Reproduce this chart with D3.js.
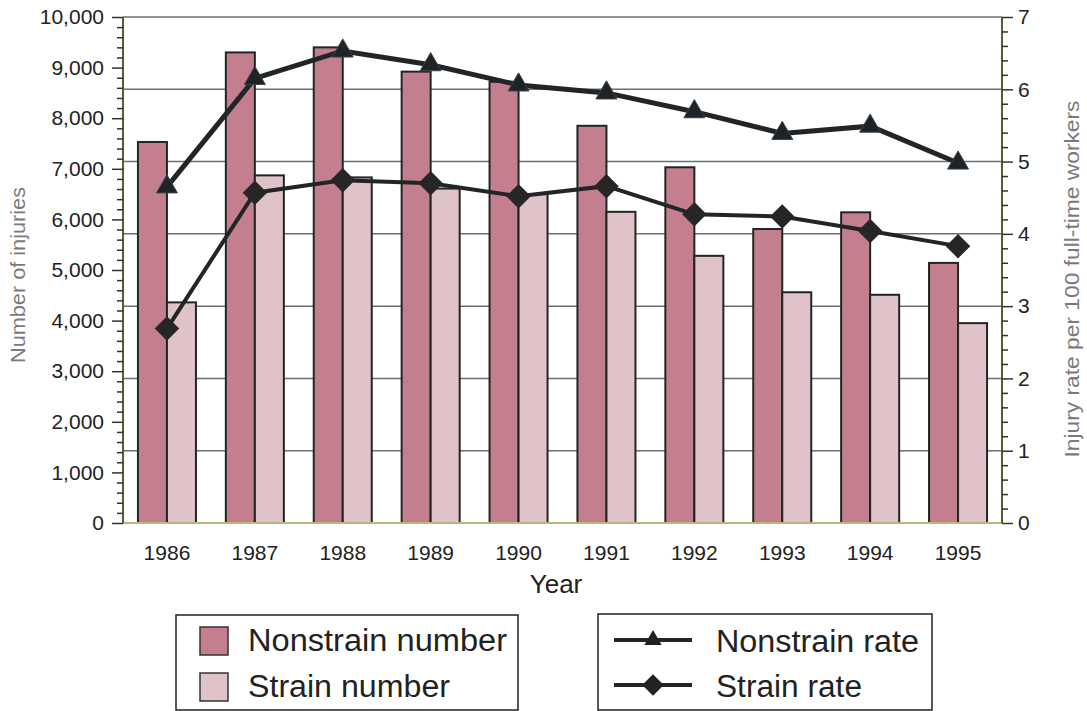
<!DOCTYPE html>
<html>
<head>
<meta charset="utf-8">
<script src="https://cdn.jsdelivr.net/npm/d3@7"></script>
<style>
  body { margin: 0; background: #fff; }
  text { font-family: Arial, "Liberation Sans", sans-serif; }
</style>
</head>
<body>
<div id="chart"></div>
<script>
// data
var years = ["1986", "1987", "1988", "1989", "1990", "1991", "1992", "1993", "1994", "1995"];
var nonstrainNumber = [7530, 9300, 9400, 8920, 8720, 7850, 7030, 5810, 6140, 5140];
var strainNumber = [4360, 6870, 6830, 6610, 6500, 6150, 5280, 4560, 4510, 3950];
var nonstrainRate = [4.65, 6.15, 6.53, 6.34, 6.06, 5.95, 5.69, 5.39, 5.49, 4.98];
var strainRate = [2.69, 4.57, 4.74, 4.70, 4.52, 4.66, 4.27, 4.24, 4.04, 3.83];
var leftTicks = [0, 1000, 2000, 3000, 4000, 5000, 6000, 7000, 8000, 9000, 10000];
var rightTicks = [0, 1, 2, 3, 4, 5, 6, 7];

var svgWidth = 1087;
var svgHeight = 711;

var plot = { left: 123, right: 1002, top: 17, bottom: 523 };

var svg = d3.select("#chart")
  .append("svg")
  .attr("width", svgWidth)
  .attr("height", svgHeight);

var x = d3.scaleBand()
  .domain(years)
  .range([plot.left, plot.right]);

var yLeft = d3.scaleLinear()
  .domain([0, 10000])
  .range([plot.bottom, plot.top]);

var yRight = d3.scaleLinear()
  .domain([0, 7])
  .range([plot.bottom, plot.top]);

var nonColor = "#c47f8f";
var strColor = "#e0c3c8";
var ink = "#222527";

// gridlines follow the right axis
svg.append("g")
  .selectAll("line")
  .data(rightTicks.slice(1))
  .enter()
  .append("line")
  .attr("x1", plot.left)
  .attr("x2", plot.right)
  .attr("y1", d => yRight(d))
  .attr("y2", d => yRight(d))
  .attr("stroke", "#6a6f73")
  .attr("stroke-width", 1.5);

// bars
var barW = x.bandwidth() * 0.33;
var bars = svg.append("g");

bars.selectAll(".non")
  .data(years)
  .enter()
  .append("rect")
  .attr("x", d => x(d) + x.bandwidth() / 2 - barW)
  .attr("y", (d, i) => yLeft(nonstrainNumber[i]))
  .attr("width", barW)
  .attr("height", (d, i) => plot.bottom - yLeft(nonstrainNumber[i]))
  .attr("fill", nonColor)
  .attr("stroke", ink)
  .attr("stroke-width", 2);

bars.selectAll(".str")
  .data(years)
  .enter()
  .append("rect")
  .attr("x", d => x(d) + x.bandwidth() / 2)
  .attr("y", (d, i) => yLeft(strainNumber[i]))
  .attr("width", barW)
  .attr("height", (d, i) => plot.bottom - yLeft(strainNumber[i]))
  .attr("fill", strColor)
  .attr("stroke", ink)
  .attr("stroke-width", 2);

// axes lines
svg.append("line")
  .attr("x1", plot.left).attr("x2", plot.right)
  .attr("y1", plot.bottom).attr("y2", plot.bottom)
  .attr("stroke", "#b9b77a").attr("stroke-width", 2);

svg.append("line")
  .attr("x1", plot.left).attr("x2", plot.left)
  .attr("y1", plot.top).attr("y2", plot.bottom)
  .attr("stroke", "#5b5a33").attr("stroke-width", 2);

svg.append("line")
  .attr("x1", plot.right).attr("x2", plot.right)
  .attr("y1", plot.top).attr("y2", plot.bottom)
  .attr("stroke", "#5b5a33").attr("stroke-width", 2);

// left axis
var leftAxis = d3.axisLeft(yLeft)
  .tickValues(leftTicks)
  .tickSize(11)
  .tickPadding(8)
  .tickFormat(d3.format(","));

var gLeft = svg.append("g")
  .attr("transform", `translate(${plot.left}, 0)`)
  .call(leftAxis);
gLeft.select(".domain").remove();
gLeft.selectAll(".tick line").attr("stroke", "#333").attr("stroke-width", 1.5);
gLeft.selectAll("text").style("font-size", "21px").attr("fill", "#222");

var leftMinor = d3.axisLeft(yLeft)
  .tickValues(d3.range(0, 10001, 200).filter(v => v % 1000 !== 0))
  .tickSize(6)
  .tickFormat("");
var gLeftMinor = svg.append("g")
  .attr("transform", `translate(${plot.left}, 0)`)
  .call(leftMinor);
gLeftMinor.select(".domain").remove();
gLeftMinor.selectAll(".tick line").attr("stroke", "#333").attr("stroke-width", 1.5);

// right axis
var rightAxis = d3.axisRight(yRight)
  .tickValues(rightTicks)
  .tickSize(11)
  .tickPadding(5)
  .tickFormat(d3.format("d"));
var gRight = svg.append("g")
  .attr("transform", `translate(${plot.right}, 0)`)
  .call(rightAxis);
gRight.select(".domain").remove();
gRight.selectAll(".tick line").attr("stroke", "#333").attr("stroke-width", 1.5);
gRight.selectAll("text").style("font-size", "21px").attr("fill", "#222");

var rightMinor = d3.axisRight(yRight)
  .tickValues(d3.range(0, 35).map(v => v / 5).filter((v, i) => i % 5 !== 0))
  .tickSize(6)
  .tickFormat("");
var gRightMinor = svg.append("g")
  .attr("transform", `translate(${plot.right}, 0)`)
  .call(rightMinor);
gRightMinor.select(".domain").remove();
gRightMinor.selectAll(".tick line").attr("stroke", "#333").attr("stroke-width", 1.5);

// x axis labels
var bottomAxis = d3.axisBottom(x).tickSize(0).tickPadding(22);
var gBottom = svg.append("g")
  .attr("transform", `translate(0, ${plot.bottom})`)
  .call(bottomAxis);
gBottom.select(".domain").remove();
gBottom.selectAll("text").style("font-size", "21px").attr("fill", "#222");

// lines
var cx = d => x(d) + x.bandwidth() / 2;

var rateLine = d3.line()
  .x((d, i) => cx(years[i]))
  .y(d => yRight(d));

svg.append("path")
  .datum(nonstrainRate)
  .attr("d", rateLine)
  .attr("fill", "none")
  .attr("stroke", ink)
  .attr("stroke-width", 5);

svg.append("path")
  .datum(strainRate)
  .attr("d", rateLine)
  .attr("fill", "none")
  .attr("stroke", ink)
  .attr("stroke-width", 4);

var tri = d3.symbol().type(d3.symbolTriangle).size(190);
var dia = d3.symbol().type(d3.symbolSquare).size(300);

svg.append("g")
  .selectAll("path")
  .data(nonstrainRate)
  .enter()
  .append("path")
  .attr("d", tri)
  .attr("transform", (d, i) => `translate(${cx(years[i])}, ${yRight(d)})`)
  .attr("fill", "#1d2327")
  .attr("stroke", "#3a4348")
  .attr("stroke-width", 1);

svg.append("g")
  .selectAll("path")
  .data(strainRate)
  .enter()
  .append("path")
  .attr("d", dia)
  .attr("transform", (d, i) => `translate(${cx(years[i])}, ${yRight(d)}) rotate(45)`)
  .attr("fill", "#262626");

// axis titles
svg.append("text")
  .attr("x", 556)
  .attr("y", 593)
  .attr("text-anchor", "middle")
  .style("font-size", "26px")
  .attr("fill", "#222")
  .text("Year");

svg.append("text")
  .attr("transform", "translate(25, 275) rotate(-90)")
  .attr("text-anchor", "middle")
  .style("font-size", "20px")
  .attr("textLength", 176)
  .attr("lengthAdjust", "spacingAndGlyphs")
  .attr("fill", "#7a7a7a")
  .text("Number of injuries");

svg.append("text")
  .attr("transform", "translate(1079, 279) rotate(-90)")
  .attr("text-anchor", "middle")
  .style("font-size", "21px")
  .attr("textLength", 357)
  .attr("lengthAdjust", "spacingAndGlyphs")
  .attr("fill", "#7a7a7a")
  .text("Injury rate per 100 full-time workers");

// legends
var leg1 = svg.append("g");
leg1.append("rect")
  .attr("x", 176).attr("y", 615).attr("width", 342).attr("height", 95)
  .attr("fill", "none").attr("stroke", "#222").attr("stroke-width", 1.5);

var barLegend = [
  { label: "Nonstrain number", color: nonColor, w: 259 },
  { label: "Strain number", color: strColor, w: 202 }
];
leg1.selectAll(".sw")
  .data(barLegend)
  .enter()
  .append("rect")
  .attr("x", 200)
  .attr("y", (d, i) => 627 + i * 46)
  .attr("width", 28)
  .attr("height", 28)
  .attr("fill", d => d.color)
  .attr("stroke", "#333")
  .attr("stroke-width", 1.5);
leg1.selectAll(".lb")
  .data(barLegend)
  .enter()
  .append("text")
  .attr("x", 248)
  .attr("y", (d, i) => 651 + i * 46)
  .style("font-size", "31px")
  .attr("textLength", d => d.w)
  .attr("lengthAdjust", "spacingAndGlyphs")
  .attr("fill", "#222")
  .text(d => d.label);

var leg2 = svg.append("g");
leg2.append("rect")
  .attr("x", 598).attr("y", 614).attr("width", 334).attr("height", 96)
  .attr("fill", "none").attr("stroke", "#222").attr("stroke-width", 1.5);

var lineLegend = [
  { label: "Nonstrain rate", w: 203 },
  { label: "Strain rate", w: 146 }
];
leg2.selectAll(".ln")
  .data(lineLegend)
  .enter()
  .append("line")
  .attr("x1", 614).attr("x2", 692)
  .attr("y1", (d, i) => 640 + i * 45)
  .attr("y2", (d, i) => 640 + i * 45)
  .attr("stroke", ink)
  .attr("stroke-width", 4);
leg2.selectAll(".mk")
  .data(lineLegend)
  .enter()
  .append("path")
  .attr("d", (d, i) => i === 0 ? tri.size(130)() : dia.size(230)())
  .attr("transform", (d, i) => `translate(653, ${640 + i * 45})` + (i === 1 ? " rotate(45)" : ""))
  .attr("fill", "#222");
leg2.selectAll(".lb")
  .data(lineLegend)
  .enter()
  .append("text")
  .attr("x", 716)
  .attr("y", (d, i) => 652 + i * 45)
  .style("font-size", "31px")
  .attr("textLength", d => d.w)
  .attr("lengthAdjust", "spacingAndGlyphs")
  .attr("fill", "#222")
  .text(d => d.label);
</script>
</body>
</html>
